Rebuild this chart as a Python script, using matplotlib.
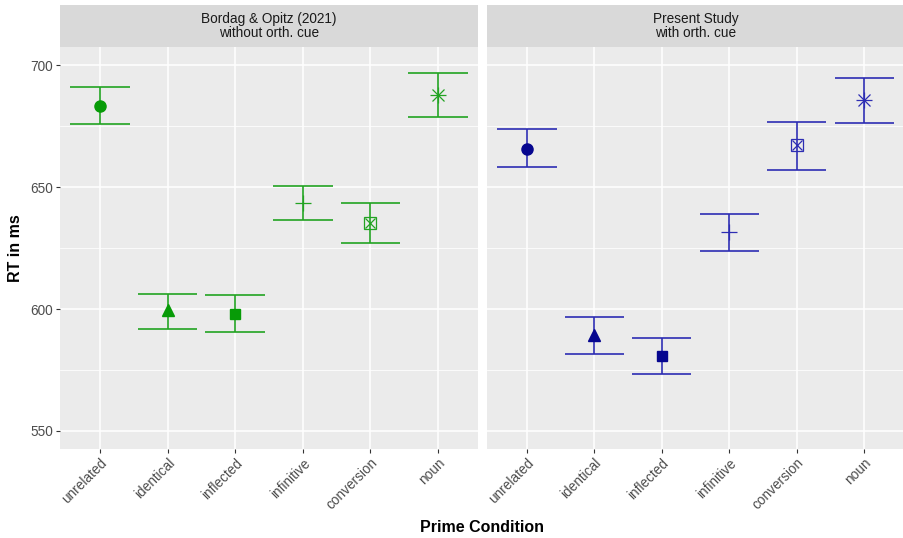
import matplotlib.pyplot as plt

plt.rcParams['font.family'] = ['Liberation Sans', 'DejaVu Sans']

conditions = ['unrelated', 'identical', 'inflected', 'infinitive', 'conversion', 'noun']
panels = ['Bordag & Opitz (2021)\nwithout orth. cue', 'Present Study\nwith orth. cue']

# means and error-bar limits (ms)
bo_mean = [683.4, 599.6, 598.1, 643.6, 635.1, 687.7]
bo_low = [676.1, 591.9, 590.6, 636.6, 627.2, 678.6]
bo_high = [691.1, 606.1, 605.6, 650.6, 643.6, 697.0]

ps_mean = [665.7, 589.3, 580.7, 631.6, 667.2, 685.6]
ps_low = [658.2, 581.4, 573.4, 623.8, 657.2, 676.5]
ps_high = [673.7, 596.6, 588.1, 639.1, 676.9, 694.8]

y_ticks = [550, 600, 650, 700]
y_minor = [575, 625, 675]

bar_cols = ['#22a322', '#2d2db3']
pt_cols = ['#079b07', '#06068f']

W, H = 904, 538
fig = plt.figure(figsize=(W / 100, H / 100), dpi=100)


def box(x0, y0, x1, y1):
    return [x0 / W, 1 - y1 / H, (x1 - x0) / W, (y1 - y0) / H]


series = [(bo_mean, bo_low, bo_high), (ps_mean, ps_low, ps_high)]
lefts = [(60, 478), (487, 904)]
xs = list(range(1, len(conditions) + 1))

for k, (m, lo, hi) in enumerate(series):
    x0, x1 = lefts[k]
    ax = fig.add_axes(box(x0, 47, x1, 449))
    ax.set_facecolor('#EBEBEB')
    for s in ax.spines.values():
        s.set_visible(False)
    ax.set_xlim(0.41, 6.59)
    ax.set_ylim(542.6, 707.5)
    ax.set_yticks(y_ticks)
    ax.set_yticks(y_minor, minor=True)
    ax.set_xticks(xs)
    ax.grid(True, which='major', color='white', linewidth=1.1)
    ax.grid(True, which='minor', axis='y', color='white', linewidth=0.55)
    ax.set_axisbelow(True)
    ax.tick_params(axis='both', which='minor', length=0)
    ax.tick_params(axis='both', which='major', color='#333333', length=3, width=0.8,
                   labelsize=9.8, labelcolor='#4D4D4D', pad=2)
    ax.set_xticklabels(conditions, rotation=45, ha='right', va='top',
                       rotation_mode='anchor')
    for t in ax.get_xticklabels():
        t.set_x(t.get_position()[0])
    if k == 1:
        ax.tick_params(axis='y', which='major', left=False, labelleft=False)

    c = bar_cols[k]
    pc = pt_cols[k]
    ax.vlines(xs, lo, hi, color=c, linewidth=1.2, zorder=3)
    ax.hlines(lo, [x - 0.44 for x in xs], [x + 0.44 for x in xs], color=c, linewidth=1.2, zorder=3)
    ax.hlines(hi, [x - 0.44 for x in xs], [x + 0.44 for x in xs], color=c, linewidth=1.2, zorder=3)

    ax.plot(xs[0], m[0], 'o', color=pc, markersize=8, zorder=4)
    ax.plot(xs[1], m[1], '^', color=pc, markersize=8.5, zorder=4)
    ax.plot(xs[2], m[2], 's', color=pc, markersize=7.5, zorder=4)
    ax.plot(xs[3], m[3], '+', color=c, markersize=12, markeredgewidth=0.9, zorder=4)
    ax.plot(xs[4], m[4], 's', markerfacecolor='none', markeredgecolor=c, markersize=8,
            markeredgewidth=0.9, zorder=4)
    ax.plot(xs[4], m[4], 'x', color=c, markersize=6.5, markeredgewidth=0.9, zorder=4)
    ax.plot(xs[5], m[5], '+', color=c, markersize=12, markeredgewidth=0.9, zorder=4)
    ax.plot(xs[5], m[5], 'x', color=c, markersize=9, markeredgewidth=0.9, zorder=4)

    sax = fig.add_axes(box(x0, 5, x1, 47))
    sax.set_facecolor('#D9D9D9')
    sax.set_xticks([])
    sax.set_yticks([])
    for s in sax.spines.values():
        s.set_visible(False)
    sax.text(0.5, 0.5, panels[k], ha='center', va='center', fontsize=9.8,
             color='#1A1A1A', linespacing=1.0, transform=sax.transAxes)

fig.text(482 / W, 1 - 527 / H, 'Prime Condition', ha='center', va='center',
         fontsize=11.5, fontweight='bold')
fig.text(15 / W, 1 - 248 / H, 'RT in ms', ha='center', va='center', rotation=90,
         fontsize=11.5, fontweight='bold')

fig.savefig('out.png', dpi=100)
